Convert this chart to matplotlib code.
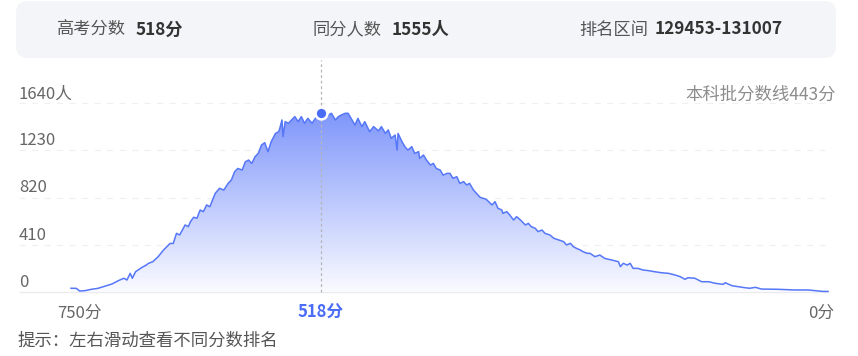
import numpy as np
import matplotlib
matplotlib.use('Agg')
import matplotlib.pyplot as plt
from matplotlib.patches import FancyBboxPatch
from matplotlib.transforms import IdentityTransform

plt.rcParams['font.family'] = ['Noto Sans CJK SC', 'DejaVu Sans']

# Data: score -> students with that score
scores = [750, 745, 742, 737, 731, 725, 718, 712, 706, 701, 698, 695, 693, 690, 684, 680,
          678, 674, 669, 664, 661, 658, 655, 652, 649, 644, 641, 639, 636, 633, 630, 627,
          624, 621, 616, 612, 608, 604, 601, 598, 595, 591, 588, 585, 582, 579, 576, 573,
          570, 567, 564, 560, 557, 556, 554, 553, 551, 548, 545, 542, 539, 536, 533, 530,
          526, 523, 518,
          514, 510, 507, 503, 500, 497, 493, 490, 486, 483, 480, 476, 473, 468, 464, 459,
          456, 452, 449, 446, 442, 440, 439, 435, 432, 429, 425, 422, 418, 417, 413, 410,
          406, 403, 400, 396, 393, 389, 386, 383, 379, 376, 372, 369, 366, 362, 359, 355,
          352, 349, 343, 340, 337, 333, 332, 328, 325, 321, 318, 314, 309, 306, 303, 299,
          296, 292, 289, 284, 280, 275, 270, 267, 263, 260, 257, 253, 250, 246, 243, 238,
          233, 228, 221, 214, 212, 209, 205, 202, 199, 194, 189, 183, 177, 170, 163, 156,
          151, 146, 143, 136, 129, 122, 115, 107, 105, 98, 85, 80, 74, 68, 51, 34,
          20, 6, 0]
counts = [30, 29, 6, 9, 21, 29, 49, 67, 96, 117, 102, 160, 117, 174, 212, 232,
          247, 261, 305, 363, 392, 420, 420, 508, 494, 581, 566, 610, 648, 639, 711, 697,
          755, 740, 856, 900, 885, 943, 972, 1044, 1073, 1059, 1131, 1146, 1117, 1175, 1204, 1277,
          1297, 1219, 1306, 1378, 1393, 1422, 1495, 1350, 1480, 1466, 1495, 1524, 1480, 1524, 1466, 1509,
          1466, 1509, 1555,
          1509, 1538, 1553, 1495, 1524, 1538, 1553, 1553, 1495, 1451, 1509, 1437, 1480, 1393, 1437, 1400,
          1437, 1378, 1408, 1335, 1364, 1233, 1378, 1306, 1262, 1233, 1262, 1204, 1219, 1161, 1190, 1146,
          1103, 1117, 1073, 1059, 1015, 1030, 1030, 987, 1001, 943, 958, 929, 943, 885, 856, 820,
          813, 804, 755, 784, 726, 711, 682, 697, 668, 624, 653, 624, 581, 595, 566, 552,
          523, 537, 508, 494, 465, 450, 436, 407, 421, 392, 378, 363, 348, 334, 334, 305,
          319, 290, 276, 261, 218, 247, 232, 247, 203, 203, 189, 183, 174, 165, 160, 145,
          131, 108, 122, 117, 87, 87, 73, 64, 78, 52, 35, 30, 38, 23, 21, 15,
          15, 3, 2]

y_ticks = [0, 410, 820, 1230, 1640]
y_tick_labels = ['0', '410', '820', '1230', '1640人']
x_tick_scores = [750, 518, 0]
x_tick_labels = ['750分', '518分', '0分']

my_score = 518
my_count = 1555
header_labels = ['高考分数', '同分人数', '排名区间']
header_values = ['518分', '1555人', '129453-131007']
cutoff_text = '本科批分数线443分'
hint_text = '提示：左右滑动查看不同分数排名'

BLUE = '#4a6cf7'
LINE = '#5677f7'
GREY = '#666666'

W, H = 858, 356


def fwd(s):
    return np.interp(s, [0, 518, 750], [0, 507.3, 757])


def inv(p):
    return np.interp(p, [0, 507.3, 757], [0, 518, 750])


def main():
    fig = plt.figure(figsize=(W / 100, H / 100), dpi=100)
    fig.patch.set_facecolor('white')

    # header card
    card = FancyBboxPatch((16, H - 58), 820, 57, boxstyle='round,pad=0,rounding_size=12',
                          transform=IdentityTransform(), facecolor='#f4f5f9', edgecolor='none')
    fig.add_artist(card)
    label_x = [57, 312.6, 579]
    value_x = [135.5, 391.8, 654.6]
    for lx, vx, lab, val in zip(label_x, value_x, header_labels, header_values):
        fig.text(lx / W, 1 - 29.5 / H, lab, fontsize=12.4, color='#555555', va='center', ha='left')
        fig.text(vx / W, 1 - 29.5 / H, val, fontsize=12.4, color='#333333', va='center', ha='left',
                 fontweight='bold')

    ax = fig.add_axes([71 / W, 1 - 291.7 / H, 757 / W, 188.4 / H])
    ax.set_xscale('function', functions=(fwd, inv))
    ax.set_axis_off()

    # gridlines that reach out to the labels on the left
    grid_left = (19 - 71) / 757
    ytr = ax.get_yaxis_transform()
    for v in y_ticks[1:]:
        ax.hlines(v, grid_left, 1, transform=ytr, colors='#f0f0f3', lw=0.9,
                  linestyles=(0, (5, 5)), clip_on=False, zorder=0)
    ax.hlines(0, grid_left, 1, transform=ytr, colors='#ebebef', lw=1.0, clip_on=False, zorder=0)
    for v, lab in zip(y_ticks, y_tick_labels):
        ax.annotate(lab, xy=(grid_left, v), xycoords=ytr, xytext=(0, 3.6), textcoords='offset points',
                    ha='left', va='baseline', fontsize=12, color=GREY)

    # gradient area under the curve
    poly = ax.fill_between(scores, counts, 0, color='none', lw=0)
    top_frac = max(counts) / 1640
    g = np.linspace(0, 1, 256)[:, None, None]
    c_top = np.array([128, 151, 251]) / 255
    c_bot = np.array([250, 251, 255]) / 255
    img = c_bot + (c_top - c_bot) * g
    im = ax.imshow(img, extent=[0, 1, 0, top_frac], transform=ax.transAxes, origin='lower',
                   aspect='auto', zorder=1)
    im.set_clip_path(poly.get_paths()[0], ax.transData)

    ax.plot(scores, counts, color=LINE, lw=1.1, clip_on=False, zorder=3, solid_joinstyle='round')

    # marker line at own score
    xtr = ax.get_xaxis_transform()
    ax.plot([my_score, my_score], [0, (291.7 - 60) / 188.4], transform=xtr, color='#b5b5b5',
            lw=0.9, linestyle=(0, (2.2, 2.2)), clip_on=False, zorder=2)
    ax.plot(my_score, my_count, 'o', ms=8.5, mfc=BLUE, mec='white', mew=1.8, clip_on=False, zorder=5)

    ax.set_xlim(750, 0)
    ax.set_ylim(0, 1640)

    ax.annotate(cutoff_text, xy=((836 - 71) / 757, 1640), xycoords=ax.get_yaxis_transform(),
                xytext=(0, 2.5), textcoords='offset points', ha='right', va='baseline',
                fontsize=12.5, color='#8c8c8c')

    offsets = [5.8, 0, -5]
    for s, lab, dx in zip(x_tick_scores, x_tick_labels, offsets):
        if s == my_score:
            ax.annotate(lab, xy=(s, 0), xytext=(dx, -15.3), textcoords='offset points', ha='center',
                        va='center', fontsize=12, color=BLUE, fontweight='bold')
        else:
            ax.annotate(lab, xy=(s, 0), xytext=(dx, -15.3), textcoords='offset points', ha='center',
                        va='center', fontsize=12, color=GREY)

    fig.text(17 / W, 1 - 341 / H, hint_text, fontsize=12.5, color='#555555', va='center', ha='left')

    fig.savefig('out.png', dpi=100)


if __name__ == '__main__':
    main()
